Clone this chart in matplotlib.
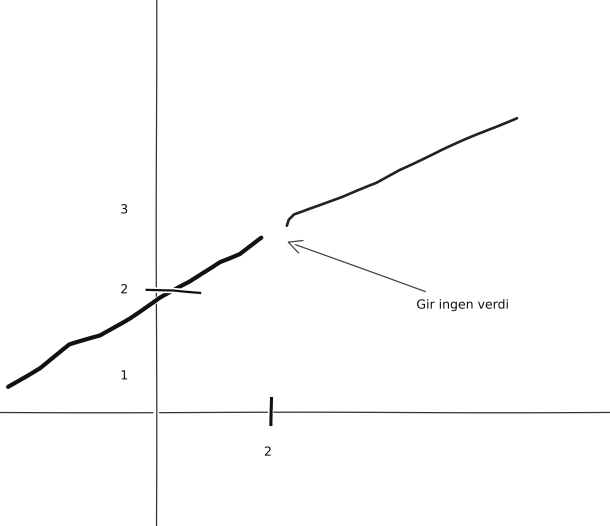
import matplotlib
matplotlib.use("Agg")
import matplotlib.pyplot as plt

# data
left_x = [-2.57, -2.02, -1.50, -0.97, -0.45, 0.07, 0.59, 1.11, 1.46, 1.84]
left_y = [0.41, 0.72, 1.10, 1.25, 1.54, 1.87, 2.13, 2.46, 2.59, 2.85]
right_x = [2.28, 2.31, 2.40, 2.68, 3.25, 3.84, 4.24, 4.99, 5.58, 6.28]
right_y = [3.05, 3.15, 3.24, 3.34, 3.52, 3.75, 3.97, 4.30, 4.54, 4.82]
ytick_labels = ["1", "2", "3"]
ytick_pos = [0.59, 2.0, 3.31]
xtick_label = "2"
xtick_value = 2
ytick_value = 2
annotation = "Gir ingen verdi"
annot_target = (2.28, 2.79)
annot_text_pos = (5.34, 1.75)

plt.xkcd(scale=0.6, length=120, randomness=2)
plt.rcParams['font.family'] = ['DejaVu Sans']

fig = plt.figure(figsize=(6.1, 5.26), dpi=100)
ax = fig.add_axes([0, 0, 1, 1])
ax.set_xlim(-2.71, 7.9)
ax.set_ylim(-1.87, 6.75)
ax.axis('off')

# axes lines
h = ax.axhline(0, color='#333333', lw=0.9)
v = ax.axvline(0, color='#333333', lw=0.9)
for ln in (h, v):
    ln.set_sketch_params(0.3, 400, 1)

# function pieces
l1, = ax.plot(left_x, left_y, color='#111111', lw=3.0, solid_capstyle='round', solid_joinstyle='round')
l2, = ax.plot(right_x, right_y, color='#222222', lw=1.9, solid_capstyle='round', solid_joinstyle='round')
for ln in (l1, l2):
    ln.set_sketch_params(0.5, 120, 2)

# hand-drawn ticks
ax.plot([xtick_value, xtick_value], [0.23, -0.20], color='#111111', lw=2.2)
ax.plot([-0.16, 0.3, 0.77], [ytick_value, ytick_value, ytick_value - 0.05], color='#111111', lw=1.6)

# tick labels
for lab, yp in zip(ytick_labels, ytick_pos):
    ax.text(-0.55, yp, lab, ha='center', va='center', fontsize=9, color='#111111')
ax.text(1.95, -0.66, xtick_label, ha='center', va='center', fontsize=9, color='#111111')

# annotation
ann = ax.annotate(annotation, xy=annot_target, xytext=annot_text_pos,
                  ha='center', va='center', fontsize=9, color='#111111',
                  arrowprops=dict(arrowstyle='->', color='#444444', lw=0.9,
                                  shrinkA=9, shrinkB=0, mutation_scale=24))
ann.arrow_patch.set_sketch_params(0.2, 300, 1)

fig.savefig("out.png", dpi=100)
